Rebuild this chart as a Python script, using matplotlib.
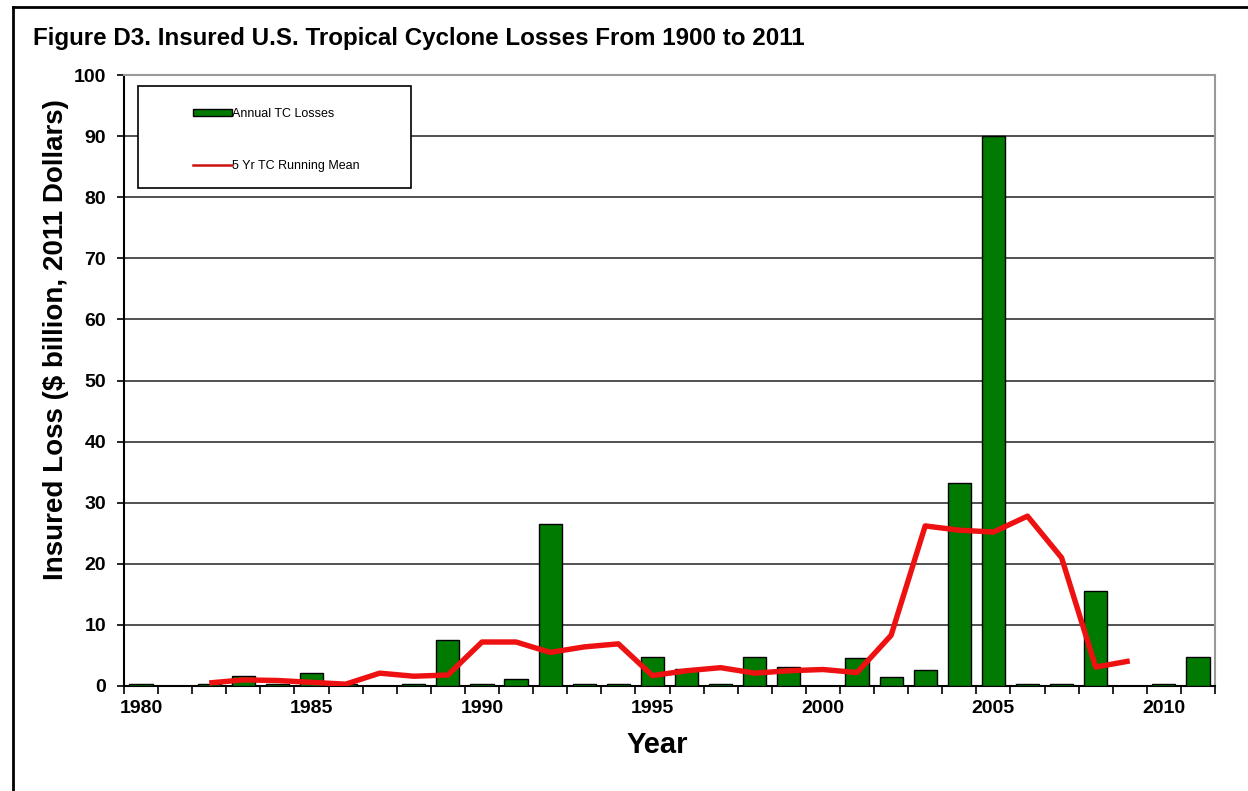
import matplotlib
matplotlib.use("Agg")
import matplotlib.pyplot as plt
from matplotlib.lines import Line2D
from matplotlib.patches import Patch, Rectangle
import numpy as np

years = list(range(1980, 2012))
annual_losses = [0.25, 0.0, 0.25, 1.6, 0.3, 2.2, 0.25, 0.0, 0.25, 7.5,
                 0.25, 1.1, 26.5, 0.25, 0.25, 4.7, 2.8, 0.25, 4.7, 3.1,
                 0.0, 4.6, 1.4, 2.7, 33.2, 90.0, 0.25, 0.25, 15.5, 0.0,
                 0.25, 4.7]
mean_years = list(range(1982, 2010))
running_mean = [0.5, 1.0, 0.9, 0.6, 0.3, 2.1, 1.6, 1.8, 7.2, 7.2,
                5.5, 6.4, 6.9, 1.7, 2.5, 3.0, 2.1, 2.5, 2.7, 2.2,
                8.3, 26.2, 25.5, 25.2, 27.8, 21.0, 3.1, 4.1]
xtick_labels = ["1980", "1985", "1990", "1995", "2000", "2005", "2010"]

title = "Figure D3. Insured U.S. Tropical Cyclone Losses From 1900 to 2011"
FONT = ["Liberation Sans", "DejaVu Sans"]

fig = plt.figure(figsize=(12.48, 7.91), dpi=100)
W, H = 1248, 791
ax = fig.add_axes([124 / W, 1 - 686 / H, (1215 - 124) / W, (686 - 75) / H])

x = np.arange(len(years))
ax.bar(x, annual_losses, width=0.68, color="#007A00", edgecolor="black",
       linewidth=1.0, zorder=3)
mx = np.array([years.index(y) for y in mean_years])
ax.plot(mx, running_mean, color="#EE1111", linewidth=3.9, zorder=4,
        solid_capstyle="butt")

ax.set_xlim(-0.5, len(years) - 0.5)
ax.set_ylim(0, 100)
ax.set_yticks(np.arange(0, 101, 10))
ax.yaxis.grid(True, color="#333333", linewidth=1.2, zorder=1)
ax.set_axisbelow(True)

# category boundary ticks
ax.set_xticks(np.arange(-0.5, len(years), 1.0), minor=False)
ax.set_xticklabels([])
ax.tick_params(axis="x", which="major", length=6, width=1.2, color="black",
               direction="out")
ax.set_xticks([years.index(int(l)) for l in xtick_labels], minor=True)
ax.set_xticklabels(xtick_labels, minor=True)
ax.tick_params(axis="x", which="minor", length=0, pad=10)
for lab in ax.get_xticklabels(minor=True):
    lab.set_fontfamily(FONT)
    lab.set_fontweight("bold")
    lab.set_fontsize(14)
ax.tick_params(axis="y", length=5, width=1.2, direction="out", pad=8)
for lab in ax.get_yticklabels():
    lab.set_fontfamily(FONT)
    lab.set_fontweight("bold")
    lab.set_fontsize(14)

for s in ["left", "bottom"]:
    ax.spines[s].set_color("black")
    ax.spines[s].set_linewidth(1.5)
ax.spines["right"].set_color("#999999")
ax.spines["right"].set_linewidth(1.5)
ax.spines["top"].set_color("#999999")
ax.spines["top"].set_linewidth(1.5)

ax.set_xlabel("Year", fontsize=21, fontweight="bold", family=FONT)
ax.xaxis.set_label_coords((657 - 124) / (1215 - 124), -(745 - 686) / (686 - 75))
ax.xaxis.label.set_va("center")
ax.set_ylabel("Insured Loss ($ billion, 2011 Dollars)", fontsize=20,
              fontweight="bold", family=FONT)
ax.yaxis.set_label_coords(-(124 - 56) / (1215 - 124), (686 - 340) / (686 - 75))
ax.yaxis.label.set_va("center")

fig.text(33 / W, 1 - 38 / H, title, fontsize=17.4, fontweight="bold",
         family=FONT, va="center", ha="left")

# legend frame box
fig.add_artist(Rectangle((138 / W, 1 - 188 / H), (411 - 138) / W,
                         (188 - 86) / H, transform=fig.transFigure,
                         facecolor="white", edgecolor="black",
                         linewidth=1.2, zorder=5))
handles = [Patch(facecolor="#007A00", edgecolor="black", linewidth=1.0),
           Line2D([0], [0], color="#CC1111", linewidth=1.8)]
leg = fig.legend(handles, ["Annual TC Losses", "5 Yr TC Running Mean"],
                 loc="upper left", bbox_to_anchor=(193 / W, 1 - 108 / H),
                 bbox_transform=fig.transFigure,
                 frameon=False, prop={"family": FONT, "size": 9},
                 handlelength=3.1, handleheight=0.45, labelspacing=3.2,
                 borderpad=0, handletextpad=0.05, borderaxespad=0)
leg.set_zorder(6)

# outer frame lines
fig.add_artist(Line2D([13 / W, 13 / W], [0, 1 - 7 / H], color="black",
                      linewidth=2.0, transform=fig.transFigure))
fig.add_artist(Line2D([13 / W, 1], [1 - 7 / H, 1 - 7 / H], color="black",
                      linewidth=2.0, transform=fig.transFigure))

fig.savefig("out.png", dpi=100)
